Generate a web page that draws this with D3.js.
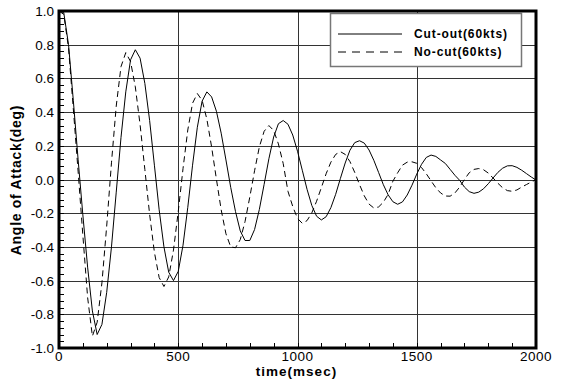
<!DOCTYPE html>
<html>
<meta charset="utf-8" />
<script src="https://d3js.org/d3.v7.min.js"></script>
<style>
  body { margin: 0; background: #fff; }
  text { font-family: Arial, "Liberation Sans", sans-serif; fill: #000; }
</style>
<body>
<div id="chart"></div>
<script>
// sample times (msec), one sample every 20 ms
const times = d3.range(0, 2001, 20);

// Cut-out(60kts), solid line
const cutOut = [
  1.00, 0.99, 0.80, 0.47, 0.12, -0.21, -0.52, -0.78, -0.92, -0.86,
  -0.67, -0.40, -0.075, 0.25, 0.52, 0.71, 0.77, 0.72, 0.57, 0.35,
  0.085, -0.18, -0.40, -0.55, -0.60, -0.545, -0.39, -0.165, 0.085, 0.31,
  0.465, 0.52, 0.49, 0.405, 0.275, 0.116, -0.047, -0.19, -0.305, -0.362,
  -0.362, -0.297, -0.178, -0.029, 0.123, 0.252, 0.331, 0.35, 0.328, 0.264,
  0.168, 0.055, -0.058, -0.154, -0.218, -0.24, -0.221, -0.167, -0.088, 0.007,
  0.098, 0.174, 0.219, 0.23, 0.216, 0.175, 0.114, 0.042, -0.031, -0.091,
  -0.132, -0.147, -0.133, -0.092, -0.034, 0.032, 0.090, 0.131, 0.145, 0.137,
  0.116, 0.095, 0.060, 0.025, -0.005, -0.045, -0.072, -0.082, -0.075, -0.055,
  -0.025, 0.009, 0.042, 0.067, 0.081, 0.082, 0.072, 0.055, 0.035, 0.015,
  -0.003
];

// No-cut(60kts), dashed line
const noCut = [
  1.00, 0.98, 0.78, 0.42, 0.05, -0.33, -0.70, -0.93, -0.847, -0.613,
  -0.276, 0.099, 0.436, 0.670, 0.753, 0.70, 0.55, 0.325, 0.059, -0.207,
  -0.432, -0.582, -0.635, -0.578, -0.419, -0.190, 0.065, 0.294, 0.453, 0.51,
  0.47, 0.358, 0.192, 0.002, -0.18, -0.322, -0.40, -0.405, -0.357, -0.25,
  -0.104, 0.052, 0.193, 0.286, 0.32, 0.291, 0.211, 0.095, -0.07, -0.16,
  -0.231, -0.26, -0.244, -0.198, -0.129, -0.048, 0.034, 0.103, 0.149, 0.165,
  0.149, 0.106, 0.042, -0.030, -0.097, -0.146, -0.169, -0.163, -0.135, -0.088,
  -0.01, 0.04, 0.085, 0.103, 0.105, 0.096, 0.071, 0.034, -0.008, -0.049,
  -0.08, -0.098, -0.099, -0.08, -0.045, 0.00, 0.04, 0.060, 0.065, 0.058,
  0.038, 0.009, -0.022, -0.049, -0.066, -0.07, -0.062, -0.045, -0.03, -0.015,
  0.0
];

const seriesNames = ["Cut-out(60kts)", "No-cut(60kts)"];
const xTicks = [0, 500, 1000, 1500, 2000];
const yTicks = [-1.0, -0.8, -0.6, -0.4, -0.2, 0.0, 0.2, 0.4, 0.6, 0.8, 1.0];
const xMinor = d3.range(100, 2000, 100);
const yMinor = d3.range(-0.96, 1.0, 0.04);

const W = 564, H = 379;
const plot = { left: 59, right: 536, top: 11, bottom: 348 };

const svg = d3.select("#chart").append("svg")
  .attr("width", W).attr("height", H);

const x = d3.scaleLinear().domain([0, 2000]).range([plot.left, plot.right]);
const y = d3.scaleLinear().domain([-1, 1]).range([plot.bottom, plot.top]);

svg.append("clipPath").attr("id", "clip")
  .append("rect")
  .attr("x", plot.left).attr("y", plot.top)
  .attr("width", plot.right - plot.left).attr("height", plot.bottom - plot.top);

// grid
const grid = svg.append("g").attr("stroke", "#333").attr("stroke-width", 1)
  .attr("shape-rendering", "crispEdges");
grid.selectAll(".hg").data(yTicks.slice(1, -1)).join("line")
  .attr("x1", plot.left).attr("x2", plot.right)
  .attr("y1", d => Math.round(y(d)) + 0.5).attr("y2", d => Math.round(y(d)) + 0.5);
grid.selectAll(".vg").data(xTicks.slice(1, -1)).join("line")
  .attr("y1", plot.top).attr("y2", plot.bottom)
  .attr("x1", d => Math.round(x(d)) + 0.5).attr("x2", d => Math.round(x(d)) + 0.5);

// minor ticks, pointing inward
const ticks = svg.append("g").attr("stroke", "#000").attr("stroke-width", 1)
  .attr("shape-rendering", "crispEdges");
ticks.selectAll(".ym").data(yMinor).join("line")
  .attr("x1", plot.left).attr("x2", plot.left + 5)
  .attr("y1", d => Math.round(y(d)) + 0.5).attr("y2", d => Math.round(y(d)) + 0.5);
ticks.selectAll(".xm").data(xMinor).join("line")
  .attr("y1", plot.bottom).attr("y2", plot.bottom - 5)
  .attr("x1", d => Math.round(x(d)) + 0.5).attr("x2", d => Math.round(x(d)) + 0.5);

// curves
const line = d3.line().x((d, i) => x(times[i])).y(d => y(d));
const curves = svg.append("g").attr("clip-path", "url(#clip)")
  .attr("fill", "none").attr("stroke", "#000").attr("stroke-width", 1);
curves.append("path").attr("d", line(noCut)).attr("stroke-dasharray", "6,4");
curves.append("path").attr("d", line(cutOut));

// legend
const legend = svg.append("g").attr("transform", "translate(330,13)");
legend.append("rect")
  .attr("x", 0.5).attr("y", 0.5).attr("width", 191).attr("height", 53)
  .attr("fill", "#fff").attr("stroke", "#777").attr("stroke-width", 1.5);
legend.append("line").attr("x1", 8).attr("x2", 72).attr("y1", 21).attr("y2", 21)
  .attr("stroke", "#000");
legend.append("line").attr("x1", 8).attr("x2", 72).attr("y1", 39).attr("y2", 39)
  .attr("stroke", "#000").attr("stroke-dasharray", "8,6");
legend.selectAll("text").data(seriesNames).join("text")
  .attr("x", 84).attr("y", (d, i) => 25 + i * 18)
  .attr("font-size", 12).attr("font-weight", "bold").attr("letter-spacing", 0.9)
  .text(d => d);

// frame
svg.append("rect")
  .attr("x", plot.left).attr("y", plot.top)
  .attr("width", plot.right - plot.left).attr("height", plot.bottom - plot.top)
  .attr("fill", "none").attr("stroke", "#000").attr("stroke-width", 3);

// tick labels
svg.append("g").selectAll("text").data(yTicks).join("text")
  .attr("x", 54).attr("y", d => y(d) + 5)
  .attr("text-anchor", "end").attr("font-size", 13.5)
  .text(d => d.toFixed(1));
svg.append("g").selectAll("text").data(xTicks).join("text")
  .attr("x", d => x(d)).attr("y", 361)
  .attr("text-anchor", "middle").attr("font-size", 13.5).attr("letter-spacing", 0.5)
  .text(d => d);

// axis titles
svg.append("text")
  .attr("x", (plot.left + plot.right) / 2 - 1).attr("y", 376)
  .attr("text-anchor", "middle").attr("font-size", 13.5).attr("font-weight", "bold")
  .attr("letter-spacing", 1)
  .text("time(msec)");
svg.append("text")
  .attr("transform", "translate(21,180) rotate(-90)")
  .attr("text-anchor", "middle").attr("font-size", 14).attr("font-weight", "bold")
  .attr("letter-spacing", 0.7)
  .text("Angle of Attack(deg)");
</script>
</body>
</html>
